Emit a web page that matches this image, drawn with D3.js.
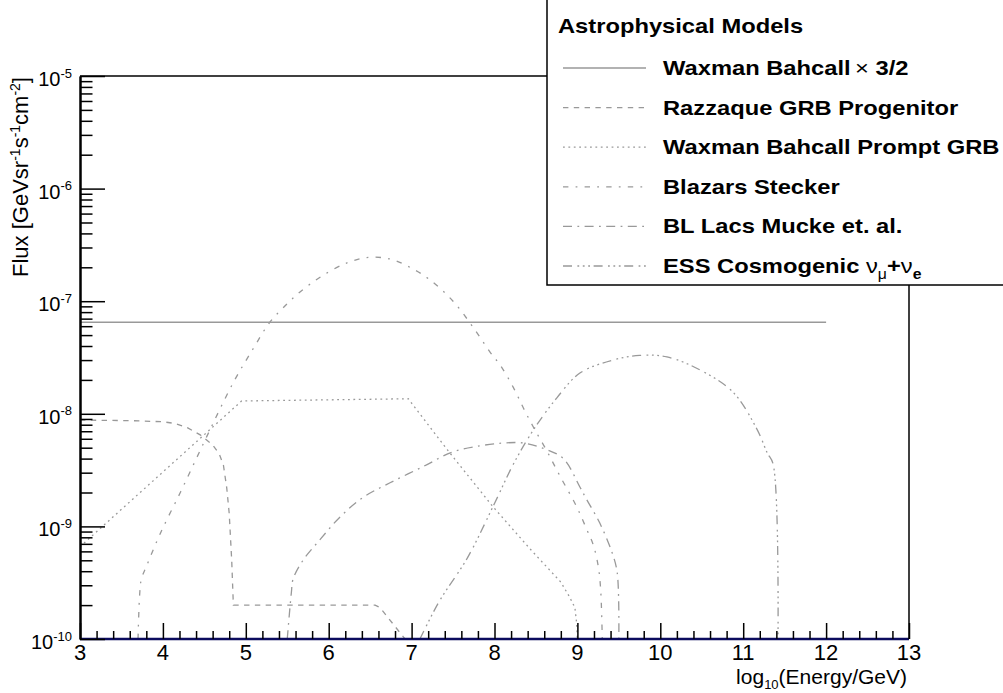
<!DOCTYPE html>
<html>
<head>
<meta charset="utf-8">
<script src="https://cdn.jsdelivr.net/npm/d3@7"></script>
<style>
  html, body { margin: 0; padding: 0; background: #fff; }
  svg { display: block; font-family: "Liberation Sans", Arial, Helvetica, sans-serif; }
</style>
</head>
<body>
<svg id="chart" width="1003" height="693"></svg>
<script>
// ---- Model fluxes: log10(E/GeV) vs E^2 dN/dE [GeV sr^-1 s^-1 cm^-2] ----
const wbEnergy   = [3, 12];
const wbFlux     = [6.5e-8, 6.5e-8];

const razEnergy  = [3, 3.6, 4.0, 4.15, 4.3, 4.45, 4.6, 4.68, 4.73, 4.77, 4.80, 4.83, 4.85, 6.56, 6.62, 6.92];
const razFlux    = [8.8e-9, 8.7e-9, 8.5e-9, 8.2e-9, 7.5e-9, 6.5e-9, 5.3e-9, 4.4e-9, 3.5e-9, 2.2e-9, 1.3e-9, 5.0e-10, 2.0e-10, 2.0e-10, 1.9e-10, 1.0e-10];

const promptEnergy = [3, 4.95, 6.96, 7.43, 7.98, 8.43, 8.8, 8.9, 8.97, 8.99, 9.0];
const promptFlux   = [6.6e-10, 1.3e-8, 1.36e-8, 4.8e-9, 1.5e-9, 6.3e-10, 3.2e-10, 2.4e-10, 1.9e-10, 1.4e-10, 1.0e-10];

const blazEnergy = [3.70, 3.72, 3.74, 3.8, 3.97, 4.21, 4.41, 4.53, 4.85, 5.09, 5.29, 5.5, 5.65, 5.9, 6.22, 6.48, 6.74, 6.98, 7.22, 7.5, 7.74, 7.95, 8.07, 8.23, 8.35, 8.47, 8.63, 8.79, 8.99, 9.11, 9.19, 9.25, 9.28, 9.30];
const blazFlux   = [1.0e-10, 2.5e-10, 3.4e-10, 4.4e-10, 8.7e-10, 2.0e-9, 4.1e-9, 6.3e-9, 1.9e-8, 3.8e-8, 6.5e-8, 9.5e-8, 1.2e-7, 1.64e-7, 2.19e-7, 2.45e-7, 2.37e-7, 2.0e-7, 1.55e-7, 1.0e-7, 5.9e-8, 3.5e-8, 2.7e-8, 1.7e-8, 1.12e-8, 7.6e-9, 4.7e-9, 2.8e-9, 1.5e-9, 9.5e-10, 6.9e-10, 4.5e-10, 2.8e-10, 1.0e-10];

const blEnergy   = [5.50, 5.55, 5.57, 5.69, 5.90, 6.14, 6.41, 6.74, 7.14, 7.5, 7.83, 8.1, 8.35, 8.6, 8.83, 9.03, 9.11, 9.27, 9.42, 9.48, 9.50];
const blFlux     = [1.0e-10, 2.6e-10, 3.4e-10, 5.0e-10, 7.7e-10, 1.22e-9, 1.8e-9, 2.44e-9, 3.4e-9, 4.6e-9, 5.2e-9, 5.5e-9, 5.5e-9, 4.9e-9, 4.0e-9, 2.24e-9, 1.74e-9, 1.07e-9, 5.8e-10, 3.9e-10, 1.0e-10];

const essEnergy  = [7.10, 7.34, 7.67, 8.0, 8.23, 8.47, 8.75, 9.03, 9.43, 9.75, 10.08, 10.48, 10.88, 11.17, 11.29, 11.36, 11.42];
const essFlux    = [1.0e-10, 2.2e-10, 5.2e-10, 1.6e-9, 3.6e-9, 7.2e-9, 1.38e-8, 2.3e-8, 3.0e-8, 3.3e-8, 3.2e-8, 2.45e-8, 1.55e-8, 7.2e-9, 4.5e-9, 3.6e-9, 1.0e-10];

// ---- Axis ticks ----
const xTickLabels    = [3, 4, 5, 6, 7, 8, 9, 10, 11, 12, 13];
const yTickExponents = [-10, -9, -8, -7, -6, -5];

// ---- Scales ----
const W = 1003, H = 693;
const plot = { left: 80, right: 909, top: 76, bottom: 639 };
const x = d3.scaleLinear().domain([3, 13]).range([plot.left, plot.right]);
const y = d3.scaleLog().domain([1e-10, 1e-5]).range([plot.bottom, plot.top]);

const svg = d3.select("#chart");
svg.append("rect").attr("width", W).attr("height", H).attr("fill", "#fff");

svg.append("clipPath").attr("id", "plotClip")
  .append("rect")
  .attr("x", plot.left).attr("y", plot.top)
  .attr("width", plot.right - plot.left).attr("height", plot.bottom - plot.top);

// ---- Series definitions (ROOT-like line styles) ----
const smooth = d3.curveCatmullRom.alpha(0.5);
const series = [
  { name: "wb",     e: wbEnergy,     f: wbFlux,     dash: null,                            curve: d3.curveLinear },
  { name: "raz",    e: razEnergy,    f: razFlux,    dash: "5.4,5.4",                       curve: d3.curveLinear },
  { name: "prompt", e: promptEnergy, f: promptFlux, dash: "1.8,3.6",                       curve: d3.curveLinear },
  { name: "blaz",   e: blazEnergy,   f: blazFlux,   dash: "5.4,7.2,1.8,7.2",               curve: smooth },
  { name: "bl",     e: blEnergy,     f: blFlux,     dash: "9,5.4,1.8,5.4",                 curve: smooth },
  { name: "ess",    e: essEnergy,    f: essFlux,    dash: "9,5.4,1.8,3.6,1.8,3.6,1.8,3.6", curve: smooth }
];
const lineColor = "#999999";
const lineWidth = 1.3;

const curves = svg.append("g").attr("clip-path", "url(#plotClip)");
series.forEach(s => {
  const line = d3.line().x(d => x(d[0])).y(d => y(d[1])).curve(s.curve);
  curves.append("path")
    .attr("d", line(s.e.map((v, i) => [v, s.f[i]])))
    .attr("fill", "none")
    .attr("stroke", lineColor)
    .attr("stroke-width", lineWidth)
    .attr("stroke-dasharray", s.dash);
});

// baseline trace along the lower edge of the frame
svg.append("line")
  .attr("x1", x(3)).attr("x2", x(13))
  .attr("y1", y(1e-10)).attr("y2", y(1e-10))
  .attr("stroke", "#0c0c5e").attr("stroke-width", 2.6);

// ---- Frame ----
svg.append("line").attr("x1", plot.left).attr("x2", plot.right)
  .attr("y1", plot.top).attr("y2", plot.top)
  .attr("stroke", "#000").attr("stroke-width", 1.5);
svg.append("line").attr("x1", plot.right).attr("x2", plot.right)
  .attr("y1", plot.top).attr("y2", plot.bottom)
  .attr("stroke", "#000").attr("stroke-width", 1.5);

// ---- Y axis (log) ----
const yMajors = yTickExponents.map(p => Math.pow(10, p));
const yMinors = [];
yTickExponents.slice(0, -1).forEach(p => {
  for (let m = 2; m <= 9; m++) yMinors.push(m * Math.pow(10, p));
});

const yAxisMajor = svg.append("g").attr("transform", `translate(${plot.left},0)`)
  .call(d3.axisLeft(y).tickValues(yMajors).tickSize(-25).tickSizeOuter(0).tickFormat(""));
const yAxisMinor = svg.append("g").attr("transform", `translate(${plot.left},0)`)
  .call(d3.axisLeft(y).tickValues(yMinors).tickSize(-12.5).tickSizeOuter(0).tickFormat(""));
[yAxisMajor, yAxisMinor].forEach(g => {
  g.selectAll(".tick line").attr("stroke", "#000").attr("stroke-width", 1.5);
  g.select(".domain").attr("stroke", "#000").attr("stroke-width", 2);
});

const yLabels = svg.append("g");
yTickExponents.forEach(p => {
  const t = yLabels.append("text")
    .attr("x", 72).attr("y", y(Math.pow(10, p)) + 10)
    .attr("text-anchor", "end")
    .attr("font-size", 20).attr("fill", "#000");
  t.append("tspan").text("10");
  t.append("tspan").attr("font-size", 13).attr("dy", -8.5).text(String(p));
});

// ---- X axis ----
const xMinors = d3.range(30, 131, 2).map(v => v / 10).filter(v => !xTickLabels.includes(v));
const xAxisMajor = svg.append("g").attr("transform", `translate(0,${plot.bottom})`)
  .call(d3.axisBottom(x).tickValues(xTickLabels).tickSize(-16).tickSizeOuter(0).tickFormat(""));
const xAxisMinor = svg.append("g").attr("transform", `translate(0,${plot.bottom})`)
  .call(d3.axisBottom(x).tickValues(xMinors).tickSize(-8).tickSizeOuter(0).tickFormat(""));
[xAxisMajor, xAxisMinor].forEach(g => {
  g.selectAll(".tick line").attr("stroke", "#000").attr("stroke-width", 1.5);
  g.select(".domain").attr("stroke", "none");
});

svg.append("g").selectAll("text").data(xTickLabels).join("text")
  .attr("x", d => x(d)).attr("y", 660)
  .attr("text-anchor", "middle")
  .attr("font-size", 22).attr("fill", "#000")
  .text(d => d);

// ---- Axis titles ----
const xTitle = svg.append("text")
  .attr("x", 907).attr("y", 684)
  .attr("text-anchor", "end").attr("font-size", 21).attr("fill", "#000");
xTitle.append("tspan").text("log");
xTitle.append("tspan").attr("font-size", 13).attr("dy", 5).text("10");
xTitle.append("tspan").attr("dy", -5).text("(Energy/GeV)");

const yTitle = svg.append("text")
  .attr("transform", "translate(28,77) rotate(-90)")
  .attr("text-anchor", "end").attr("font-size", 22).attr("fill", "#000");
yTitle.append("tspan").text("Flux [GeVsr");
yTitle.append("tspan").attr("font-size", 14).attr("dy", -8).text("-1");
yTitle.append("tspan").attr("dy", 8).text("s");
yTitle.append("tspan").attr("font-size", 14).attr("dy", -8).text("-1");
yTitle.append("tspan").attr("dy", 8).text("cm");
yTitle.append("tspan").attr("font-size", 14).attr("dy", -8).text("-2");
yTitle.append("tspan").attr("dy", 8).text("]");

// ---- Legend ----
const legend = svg.append("g");
legend.append("rect")
  .attr("x", 547).attr("y", -3).attr("width", 470).attr("height", 288)
  .attr("fill", "#fff").attr("stroke", "#000").attr("stroke-width", 1.5);

const stretch = 1.13;
legend.append("text")
  .attr("transform", `translate(558,33) scale(${stretch},1)`)
  .attr("font-size", 21).attr("font-weight", "bold").attr("fill", "#000")
  .text("Astrophysical Models");

// label builders, one per series, each fills a <text>
const legendLabels = [
  t => { t.append("tspan").text("Waxman Bahcall");
         t.append("tspan").attr("font-weight", "normal").attr("dx", 4).text("\u00d7");
         t.append("tspan").text(" 3/2"); },
  t => { t.text("Razzaque GRB Progenitor"); },
  t => { t.text("Waxman Bahcall Prompt GRB"); },
  t => { t.text("Blazars Stecker"); },
  t => { t.text("BL Lacs Mucke et. al."); },
  t => { t.append("tspan").text("ESS Cosmogenic ");
         t.append("tspan").attr("font-weight", "normal").text("\u03bd");
         t.append("tspan").attr("font-weight", "normal").attr("font-size", 14).attr("dy", 6).text("\u03bc");
         t.append("tspan").attr("dy", -6).text("+");
         t.append("tspan").attr("font-weight", "normal").text("\u03bd");
         t.append("tspan").attr("font-size", 14).attr("dy", 6).text("e"); }
];

series.forEach((s, i) => {
  const base = 75 + i * 39.6;
  legend.append("line")
    .attr("x1", 563).attr("x2", 646)
    .attr("y1", base - 7).attr("y2", base - 7)
    .attr("stroke", lineColor).attr("stroke-width", lineWidth)
    .attr("stroke-dasharray", s.dash);
  const t = legend.append("text")
    .attr("transform", `translate(663,${base}) scale(${stretch},1)`)
    .attr("font-size", 21).attr("font-weight", "bold").attr("fill", "#000");
  legendLabels[i](t);
});
</script>
</body>
</html>
